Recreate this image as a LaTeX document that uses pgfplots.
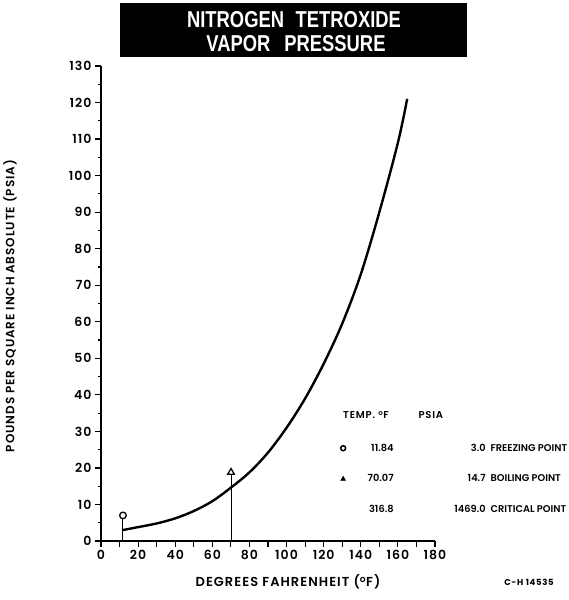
\documentclass[border=0pt]{standalone}
\usepackage{pgfplots}
\pgfplotsset{compat=1.18}
\usepackage{graphicx}
\usepackage{fontspec}
\setmainfont{Poppins}[UprightFont={* SemiBold}, BoldFont={* Bold}, LetterSpace=8]
\newfontfamily\titlefont{Liberation Sans}[FakeStretch=0.8]
\begin{document}
\begin{tikzpicture}[x=1pt,y=1pt]
\useasboundingbox (0,0) rectangle (569,600);
% title band
\fill[black] (120,543) rectangle (467,597);
\node[white,font=\titlefont\bfseries\fontsize{23}{24}\selectfont] at (294,580) {NITROGEN\hspace{0.5em}TETROXIDE};
\node[white,font=\titlefont\bfseries\fontsize{23}{24}\selectfont] at (296,556) {VAPOR\hspace{0.6em}PRESSURE};
\begin{axis}[
  at={(101pt,59pt)}, anchor=south west,
  scale only axis, width=334pt, height=475pt,
  xmin=0, xmax=180, ymin=0, ymax=130,
  axis lines=left,
  axis line style={-, line width=2.8pt},
  xtick={0,10,...,180},
  xticklabels={0,,20,,40,,60,,80,,100,,120,,140,,160,,180},
  ytick={0,10,...,130},
  minor ytick={5,15,...,125},
  tick align=outside,
  major tick length=6pt,
  minor tick length=3pt,
  every tick/.style={black, line width=1.2pt},
  tick label style={font=\fontsize{12.5}{13}\selectfont},
  /pgf/number format/assume math mode=true,
  clip=false,
  legend style={at={(axis cs:125.8,16.97)}, anchor=west, draw=none, fill=none,
    inner sep=0pt, row sep=18pt, font=\fontsize{9.8}{12}\selectfont\addfontfeatures{LetterSpace=0}},
  legend cell align=left,
]
\draw[black, line width=2.8pt] (axis cs:0,130) -- (axis cs:0,0) -- (axis cs:180,0);
\addplot[black, line width=2.4pt, smooth, tension=0.55, forget plot] coordinates {
 (11.84,3.0) (20,3.8) (30,4.8) (40,6.2) (50,8.2) (60,10.9) (70,14.6)
 (80,18.8) (90,24.2) (100,31) (110,39) (120,48.5) (130,59.5) (140,73)
 (150,90) (160,109) (165,121)
};
\addplot[black, line width=1pt, ycomb, mark=*, mark size=3.3pt,
  mark options={fill=white, line width=1.3pt}, forget plot] coordinates {(11.84,7)};
\addplot[black, line width=1pt, ycomb, mark=triangle*, mark size=3.8pt,
  mark options={fill=white, line width=1.3pt}, forget plot] coordinates {(70.07,18.8)};
\addlegendimage{only marks, mark=o, mark size=2.5pt, line width=1.5pt, black}
\addlegendentry{\makebox[46pt][r]{11.84}\makebox[92pt][r]{3.0}\hspace{5pt}FREEZING POINT}
\addlegendimage{only marks, mark=triangle*, mark size=2.8pt, black}
\addlegendentry{\makebox[46pt][r]{70.07}\makebox[92pt][r]{14.7}\hspace{5pt}BOILING POINT}
\addlegendimage{empty legend}
\addlegendentry{\makebox[46pt][r]{316.8}\makebox[92pt][r]{1469.0}\hspace{5pt}CRITICAL POINT}
\end{axis}
\node[anchor=west, inner sep=0pt, font=\fontsize{10}{12}\selectfont] at (343,185) {TEMP.\ \textsuperscript{o}F\hspace{30pt}PSIA};
\node[font=\fontsize{13}{14}\selectfont] at (288,18) {DEGREES FAHRENHEIT (\textsuperscript{o}F)};
\node[rotate=90, font=\fontsize{12}{13}\selectfont] at (10,294) {POUNDS PER SQUARE INCH ABSOLUTE (PSIA)};
\node[font=\bfseries\fontsize{8.5}{10}\selectfont] at (529,18) {C-H 14535};
\end{tikzpicture}
\end{document}
